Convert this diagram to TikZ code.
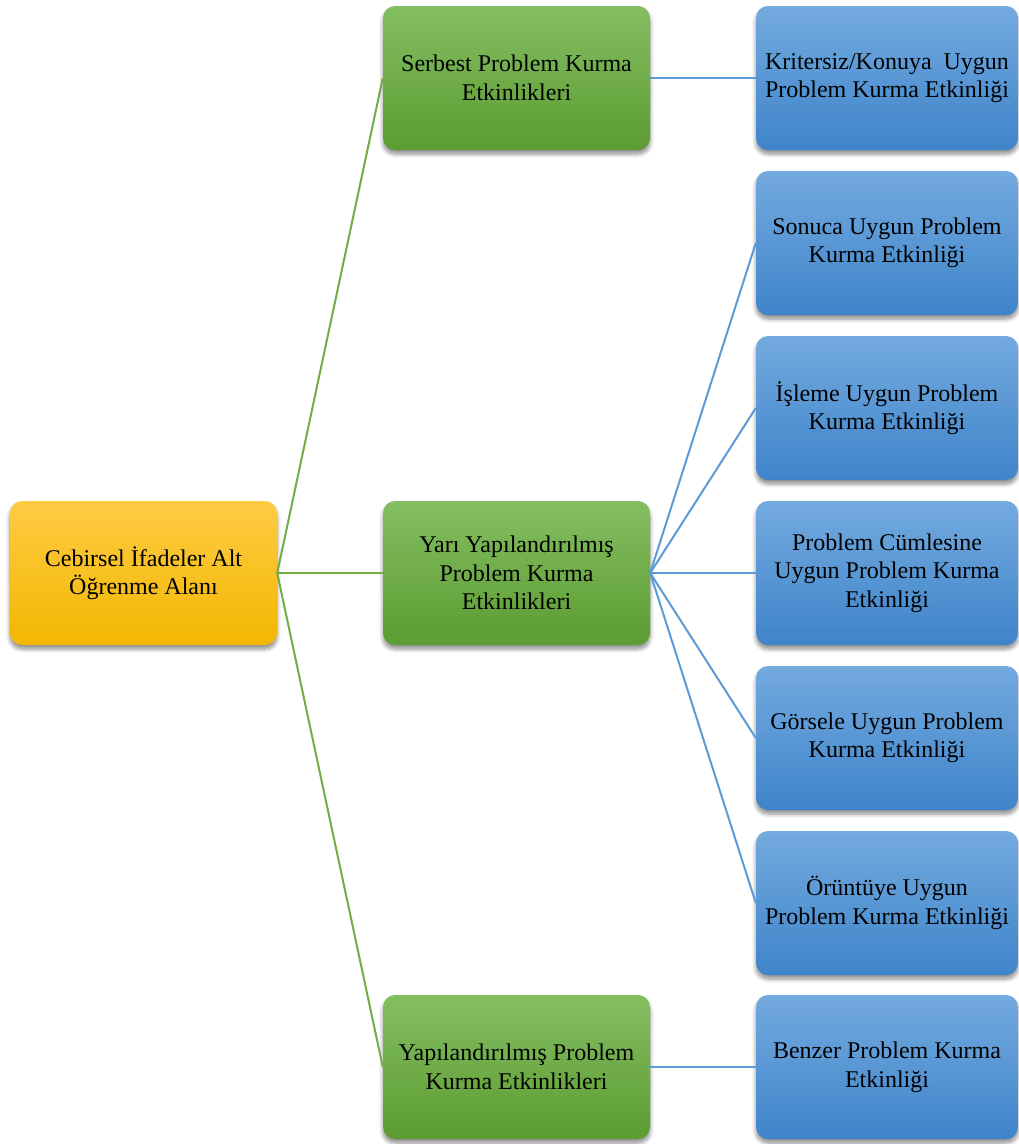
\documentclass[tikz,border=0pt]{standalone}
\usepackage{fontspec}
\setmainfont{Liberation Serif}
\usetikzlibrary{shadows.blur}
\definecolor{gtop}{HTML}{84BE62}
\definecolor{gbot}{HTML}{5C9C31}
\definecolor{btop}{HTML}{73AADF}
\definecolor{bbot}{HTML}{3F84CA}
\definecolor{otop}{HTML}{FFCB45}
\definecolor{obot}{HTML}{F2B700}
\definecolor{gline}{HTML}{70AD47}
\definecolor{bline}{HTML}{5B9BD5}
\tikzset{
  box/.style={rounded corners=12pt, minimum height=144pt, align=center, inner sep=0pt,
    font=\fontsize{24}{28.5}\selectfont,
    blur shadow={shadow xshift=0pt, shadow yshift=-4pt, shadow blur steps=6, shadow blur radius=4pt, shadow opacity=45}},
  rootbox/.style={box, minimum width=267pt, top color=otop, bottom color=obot},
  greenbox/.style={box, minimum width=267pt, top color=gtop, bottom color=gbot},
  bluebox/.style={box, minimum width=262pt, top color=btop, bottom color=bbot},
  gconn/.style={draw=gline, line width=2pt},
  bconn/.style={draw=bline, line width=2pt}
}
\begin{document}
\begin{tikzpicture}[x=1pt,y=-1pt]
\useasboundingbox (0,0) rectangle (1019,1144);
\node[rootbox] (root) at (143.5,573) {Cebirsel İfadeler Alt\\Öğrenme Alanı};
\node[greenbox] (g1) at (516.5,78) {Serbest Problem Kurma\\Etkinlikleri};
\node[greenbox] (g2) at (516.5,573) {Yarı Yapılandırılmış\\Problem Kurma\\Etkinlikleri};
\node[greenbox] (g3) at (516.5,1067) {Yapılandırılmış Problem\\Kurma Etkinlikleri};
\node[bluebox] (b1) at (887,78) {Kritersiz/Konuya\ \ Uygun\\Problem Kurma Etkinliği};
\node[bluebox] (b2) at (887,243) {Sonuca Uygun Problem\\Kurma Etkinliği};
\node[bluebox] (b3) at (887,408) {İşleme Uygun Problem\\Kurma Etkinliği};
\node[bluebox] (b4) at (887,573) {Problem Cümlesine\\Uygun Problem Kurma\\Etkinliği};
\node[bluebox] (b5) at (887,738) {Görsele Uygun Problem\\Kurma Etkinliği};
\node[bluebox] (b6) at (887,903) {Örüntüye Uygun\\Problem Kurma Etkinliği};
\node[bluebox] (b7) at (887,1067) {Benzer Problem Kurma\\Etkinliği};
\draw[gconn] (root.east) -- (g1.west);
\draw[gconn] (root.east) -- (g2.west);
\draw[gconn] (root.east) -- (g3.west);
\draw[bconn] (g1.east) -- (b1.west);
\draw[bconn] (g2.east) -- (b2.west);
\draw[bconn] (g2.east) -- (b3.west);
\draw[bconn] (g2.east) -- (b4.west);
\draw[bconn] (g2.east) -- (b5.west);
\draw[bconn] (g2.east) -- (b6.west);
\draw[bconn] (g3.east) -- (b7.west);
\end{tikzpicture}
\end{document}
